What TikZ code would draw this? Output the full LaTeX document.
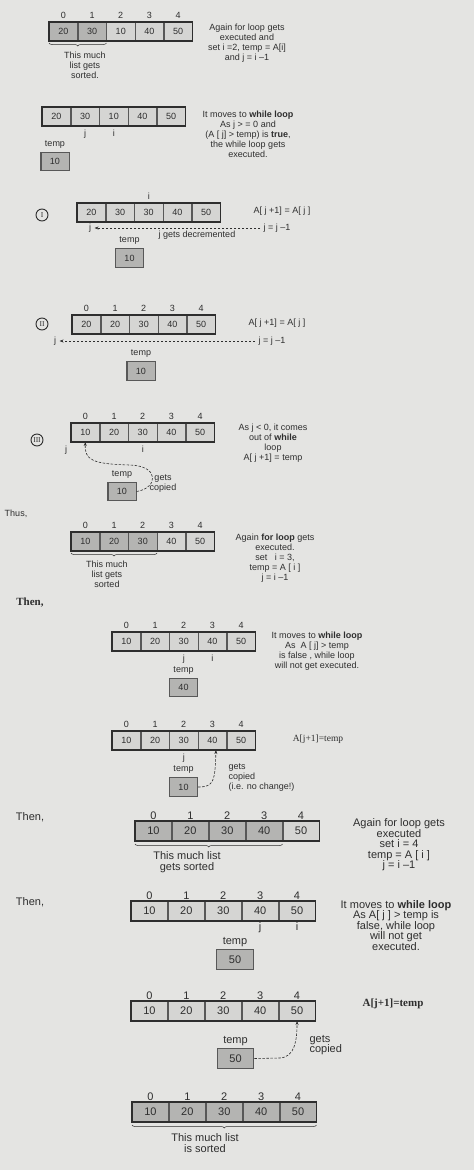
\documentclass[tikz,border=0pt]{standalone}
\usepackage{fontspec}
\setmainfont{Liberation Sans}
\newfontfamily\serifface{Liberation Serif}
\usetikzlibrary{positioning, arrows.meta, decorations.pathreplacing}
\definecolor{paper}{HTML}{E4E4E2}
\definecolor{lightcell}{HTML}{D5D5D3}
\definecolor{darkcell}{HTML}{B4B4B2}
\definecolor{ink}{HTML}{2E2E2E}
\newcommand{\notesmall}{\fontsize{9}{10}\selectfont}
\newcommand{\notebig}{\fontsize{11}{10.5}\selectfont}

\begin{document}
\begin{tikzpicture}[x=1pt, y=1pt, node distance=0pt, >={Stealth[length=4pt,width=3pt]},
  cell/.style={draw=ink!80, line width=0.5pt, fill=lightcell, minimum width=28.2pt, minimum height=18.5pt, inner sep=0pt, text=ink, font=\notesmall},
  wide/.style={cell, minimum width=36.4pt, minimum height=19.5pt, font=\notebig},
  sorted/.style={fill=darkcell},
  tempbox/.style={cell, fill=darkcell, line width=1.2pt},
  tempwide/.style={wide, fill=darkcell, line width=1.2pt},
  outline/.style={draw=ink, line width=1.3pt},
  idx/.style={font=\notesmall, text=ink},
  idxw/.style={font=\notebig, text=ink, inner sep=1.5pt},
  note/.style={align=center, font=\notesmall, text=ink},
  notew/.style={align=center, font=\notebig, text=ink},
  dashline/.style={draw=ink, line width=0.6pt, dash pattern=on 2.5pt off 1.5pt},
  sortbrace/.style={draw=ink, line width=0.5pt, decorate, decoration={brace, mirror, amplitude=3pt}},
  stepmark/.style={circle, draw=ink, line width=0.9pt, inner sep=0pt, minimum size=12pt, font=\serifface\fontsize{7.5}{7.5}\selectfont, text=ink}]

 \fill[paper] (0,0) rectangle (474,-1170);
 \useasboundingbox (0,0) rectangle (474,-1170);

 % for loop, i = 2
 \node[cell, sorted, anchor=north west, label={[idx]above:0}] (a1-0) at (49,-22) {20};
 \node[cell, sorted, right=of a1-0, label={[idx]above:1}] (a1-1) {30};
 \node[cell, right=of a1-1, label={[idx]above:2}] (a1-2) {10};
 \node[cell, right=of a1-2, label={[idx]above:3}] (a1-3) {40};
 \node[cell, right=of a1-3, label={[idx]above:4}] (a1-4) {50};
 \draw[outline] (a1-0.north west) rectangle (a1-4.south east);
 \draw[sortbrace] ([yshift=-2pt]a1-0.south west) -- ([yshift=-2pt]a1-1.south east);
 \node[note] (s1) at (85,-65) {This much\\list gets\\sorted.};
 \node[note] (n1) at (247,-43) {Again for loop gets\\executed and\\set i =2, temp = A[i]\\and j = i –1};

 % while loop starts
 \node[cell, anchor=north west] (a2-0) at (42,-107) {20};
 \node[cell, right=of a2-0, label={[idx]below:j}] (a2-1) {30};
 \node[cell, right=of a2-1, label={[idx]below:i}] (a2-2) {10};
 \node[cell, right=of a2-2] (a2-3) {40};
 \node[cell, right=of a2-3] (a2-4) {50};
 \draw[outline] (a2-0.north west) rectangle (a2-4.south east);
 \node[tempbox, label={[idx]above:temp}] (t2) at (55,-161.5) {10};
 \node[note] (n2) at (248,-134.5) {It moves to \textbf{while loop}\\As j > = 0 and\\(A [ j] > temp) is \textbf{true},\\the while loop gets\\executed.};

 % step I
 \node[stepmark] (m3) at (42,-215) {I};
 \node[cell, anchor=north west] (a3-0) at (77,-203) {20};
 \node[cell, right=of a3-0] (a3-1) {30};
 \node[cell, right=of a3-1, label={[idx]above:i}] (a3-2) {30};
 \node[cell, right=of a3-2] (a3-3) {40};
 \node[cell, right=of a3-3] (a3-4) {50};
 \draw[outline] (a3-0.north west) rectangle (a3-4.south east);
 \node[note] (n3) at (282,-211) {A[ j +1] = A[ j ]};
 \node[idx] (j3) at (90,-228) {j};
 \node[idx] (d3) at (277,-228) {j = j –1};
 \draw[dashline, ->] (d3) -- (j3);
 \node[idx] (g3) at (197,-235.5) {j gets decremented};
 \node[tempbox, label={[idx]above:temp}] (t3) at (129.5,-258) {10};

 % step II
 \node[stepmark] (m4) at (42,-324) {II};
 \node[cell, anchor=north west, label={[idx]above:0}] (a4-0) at (72,-315) {20};
 \node[cell, right=of a4-0, label={[idx]above:1}] (a4-1) {20};
 \node[cell, right=of a4-1, label={[idx]above:2}] (a4-2) {30};
 \node[cell, right=of a4-2, label={[idx]above:3}] (a4-3) {40};
 \node[cell, right=of a4-3, label={[idx]above:4}] (a4-4) {50};
 \draw[outline] (a4-0.north west) rectangle (a4-4.south east);
 \node[note] (n4) at (277,-323) {A[ j +1] = A[ j ]};
 \node[idx] (j4) at (55,-341) {j};
 \node[idx] (d4) at (272,-341) {j = j –1};
 \draw[dashline, ->] (d4) -- (j4);
 \node[tempbox, label={[idx]above:temp}] (t4) at (141,-371) {10};

 % step III
 \node[stepmark] (m5) at (37,-440) {III};
 \node[cell, anchor=north west, label={[idx]above:0}] (a5-0) at (71,-423) {10};
 \node[cell, right=of a5-0, label={[idx]above:1}] (a5-1) {20};
 \node[cell, right=of a5-1, label={[idx]above:2}, label={[idx]below:i}] (a5-2) {30};
 \node[cell, right=of a5-2, label={[idx]above:3}] (a5-3) {40};
 \node[cell, right=of a5-3, label={[idx]above:4}] (a5-4) {50};
 \draw[outline] (a5-0.north west) rectangle (a5-4.south east);
 \node[idx] (j5) at (66,-450) {j};
 \node[tempbox, label={[idx]above:temp}] (t5) at (122,-491.5) {10};
 \draw[dashline, ->] (t5.east) .. controls (158,-488) and (160,-466) .. (130,-465)
   .. controls (92,-464) and (84.6,-460) .. (a5-0.south);
 \node[note] (g5) at (163,-483.5) {gets\\copied};
 \node[note] (n5) at (273,-443.5) {As j < 0, it comes\\out of \textbf{while}\\loop\\A[ j +1] = temp};

 \node[idx] (thus) at (16,-514) {Thus,};

 % for loop, i = 3
 \node[cell, sorted, anchor=north west, label={[idx]above:0}] (a6-0) at (71,-532) {10};
 \node[cell, sorted, right=of a6-0, label={[idx]above:1}] (a6-1) {20};
 \node[cell, sorted, right=of a6-1, label={[idx]above:2}] (a6-2) {30};
 \node[cell, right=of a6-2, label={[idx]above:3}] (a6-3) {40};
 \node[cell, right=of a6-3, label={[idx]above:4}] (a6-4) {50};
 \draw[outline] (a6-0.north west) rectangle (a6-4.south east);
 \draw[sortbrace] ([yshift=-2pt]a6-0.south west) -- ([yshift=-2pt]a6-2.south east);
 \node[note] (s6) at (107,-574.5) {This much\\list gets\\sorted};
 \node[note] (n6) at (275,-558) {Again \textbf{for loop} gets\\executed.\\set~~ i = 3,\\temp = A [ i ]\\j = i –1};

 \node[font=\serifface\bfseries\fontsize{11}{12}\selectfont, text=ink] (then1) at (30,-603) {Then,};

 % while test fails
 \node[cell, anchor=north west, label={[idx]above:0}] (a7-0) at (112,-632) {10};
 \node[cell, right=of a7-0, label={[idx]above:1}] (a7-1) {20};
 \node[cell, right=of a7-1, label={[idx]above:2}, label={[idx]below:j}] (a7-2) {30};
 \node[cell, right=of a7-2, label={[idx]above:3}, label={[idx]below:i}] (a7-3) {40};
 \node[cell, right=of a7-3, label={[idx]above:4}] (a7-4) {50};
 \draw[outline] (a7-0.north west) rectangle (a7-4.south east);
 \node[tempbox, label={[idx]above:temp}] (t7) at (183.5,-687.5) {40};
 \node[note] (n7) at (317,-651) {It moves to \textbf{while loop}\\As~ A [ j] > temp\\is false , while loop\\will not get executed.};

 % copy back
 \node[cell, anchor=north west, label={[idx]above:0}] (a8-0) at (112,-731) {10};
 \node[cell, right=of a8-0, label={[idx]above:1}] (a8-1) {20};
 \node[cell, right=of a8-1, label={[idx]above:2}, label={[idx]below:j}] (a8-2) {30};
 \node[cell, right=of a8-2, label={[idx]above:3}] (a8-3) {40};
 \node[cell, right=of a8-3, label={[idx]above:4}] (a8-4) {50};
 \draw[outline] (a8-0.north west) rectangle (a8-4.south east);
 \node[font=\serifface\fontsize{9.5}{10}\selectfont, text=ink] (n8) at (318,-739) {A[j+1]=temp};
 \node[tempbox, label={[idx]above:temp}] (t8) at (183.5,-787) {10};
 \draw[dashline, ->] (t8.east) .. controls (214,-787) and (215,-781) .. ([xshift=3.5pt]a8-3.south);
 \node[note, align=left, anchor=west] (g8) at (225,-777.5) {gets\\copied\\(i.e. no change!)};

 \node[notew] (then2) at (30,-817) {Then,};

 % for loop, i = 4
 \node[wide, sorted, anchor=north west, label={[idxw]above:0}] (a9-0) at (135,-821) {10};
 \node[wide, sorted, right=of a9-0, label={[idxw]above:1}] (a9-1) {20};
 \node[wide, sorted, right=of a9-1, label={[idxw]above:2}] (a9-2) {30};
 \node[wide, sorted, right=of a9-2, label={[idxw]above:3}] (a9-3) {40};
 \node[wide, right=of a9-3, label={[idxw]above:4}] (a9-4) {50};
 \draw[outline] (a9-0.north west) rectangle (a9-4.south east);
 \draw[sortbrace] ([yshift=-3pt]a9-0.south west) -- ([yshift=-3pt]a9-3.south east);
 \node[notew] (s9) at (187,-862) {This much list\\gets sorted};
 \node[notew] (n9) at (399,-845) {Again for loop gets\\executed\\set i = 4\\temp = A [ i ]\\j = i –1};

 \node[notew] (then3) at (30,-902) {Then,};

 % while test fails again
 \node[wide, anchor=north west, label={[idxw]above:0}] (a10-0) at (131,-901) {10};
 \node[wide, right=of a10-0, label={[idxw]above:1}] (a10-1) {20};
 \node[wide, right=of a10-1, label={[idxw]above:2}] (a10-2) {30};
 \node[wide, right=of a10-2, label={[idxw]above:3}, label={[idxw]below:j}] (a10-3) {40};
 \node[wide, right=of a10-3, label={[idxw]above:4}, label={[idxw]below:i}] (a10-4) {50};
 \draw[outline] (a10-0.north west) rectangle (a10-4.south east);
 \node[tempwide, label={[idxw, inner sep=2.5pt]above:temp}] (t10) at (235,-959.5) {50};
 \node[notew] (n10) at (396,-925.5) {It moves to \textbf{while loop}\\As A[ j ] > temp is\\false, while loop\\will not get\\executed.};

 % last copy
 \node[wide, anchor=north west, label={[idxw]above:0}] (a11-0) at (131,-1001) {10};
 \node[wide, right=of a11-0, label={[idxw]above:1}] (a11-1) {20};
 \node[wide, right=of a11-1, label={[idxw]above:2}] (a11-2) {30};
 \node[wide, right=of a11-2, label={[idxw]above:3}] (a11-3) {40};
 \node[wide, right=of a11-3, label={[idxw]above:4}] (a11-4) {50};
 \draw[outline] (a11-0.north west) rectangle (a11-4.south east);
 \node[font=\serifface\bfseries\fontsize{11}{12}\selectfont, text=ink] (n11) at (393,-1004) {A[j+1]=temp};
 \node[tempwide, label={[idxw, inner sep=2.5pt]above:temp}] (t11) at (235.5,-1058.5) {50};
 \draw[dashline, ->] (t11.east) -- (280,-1058) .. controls (295,-1057) and (297,-1040) .. (a11-4.south);
 \node[notew, align=left, anchor=west] (g11) at (306,-1045) {gets\\copied};

 % sorted
 \node[wide, sorted, anchor=north west, label={[idxw]above:0}] (a12-0) at (132,-1102) {10};
 \node[wide, sorted, right=of a12-0, label={[idxw]above:1}] (a12-1) {20};
 \node[wide, sorted, right=of a12-1, label={[idxw]above:2}] (a12-2) {30};
 \node[wide, sorted, right=of a12-2, label={[idxw]above:3}] (a12-3) {40};
 \node[wide, sorted, right=of a12-3, label={[idxw]above:4}] (a12-4) {50};
 \draw[outline] (a12-0.north west) rectangle (a12-4.south east);
 \draw[sortbrace] ([yshift=-3pt]a12-0.south west) -- ([yshift=-3pt]a12-4.south east);
 \node[notew] (s12) at (205,-1143) {This much list\\is sorted};
\end{tikzpicture}
\end{document}
